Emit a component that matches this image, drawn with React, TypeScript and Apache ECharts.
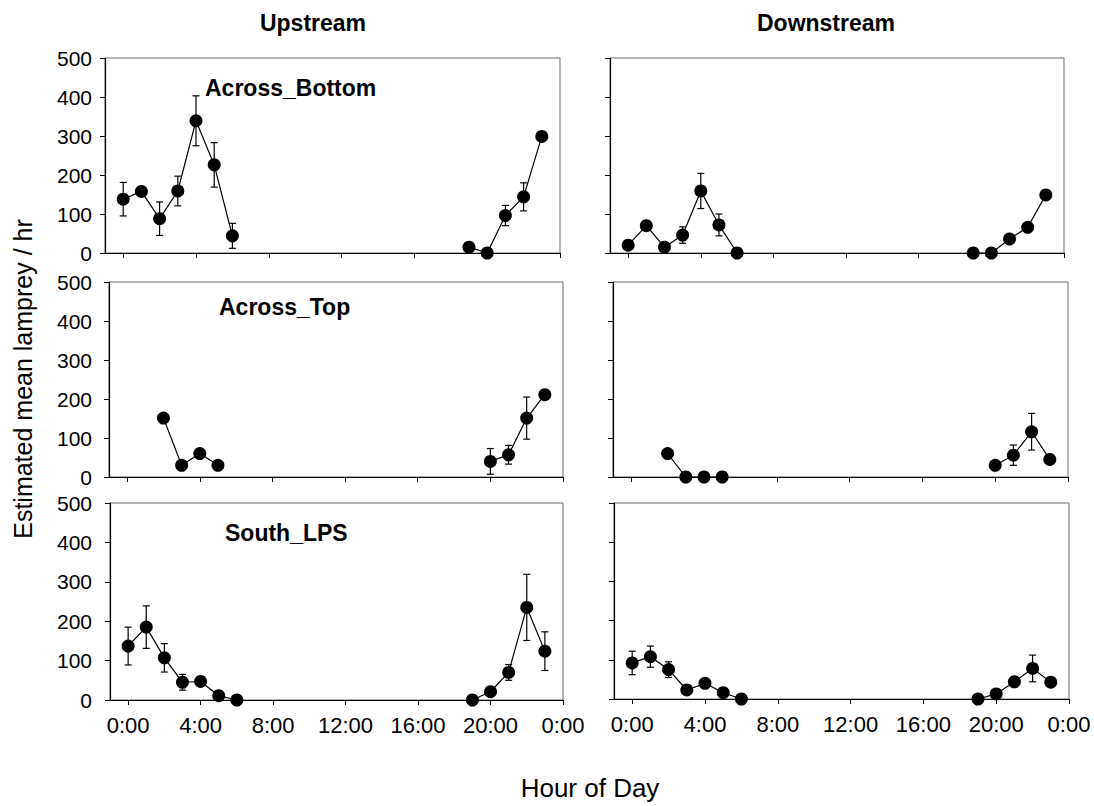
import React, { useEffect, useRef } from "react";
import * as echarts from "echarts";

const FONT = '"Liberation Sans", Arial, Helvetica, sans-serif';

// Hour of day for each sampled interval
const hoursFull = [0, 1, 2, 3, 4, 5, 6, 19, 20, 21, 22, 23];
const hoursTop = [2, 3, 4, 5, 20, 21, 22, 23];

// Across_Bottom
const upBottomMean = [138, 158, 88, 159, 339, 226, 44, 15, 0, 96, 144, 299];
const upBottomErr = [43, 0, 43, 38, 64, 57, 32, 0, 0, 26, 36, 0];
const downBottomMean = [20, 70, 15, 46, 159, 72, 0, 0, 0, 36, 66, 149];
const downBottomErr = [10, 0, 0, 21, 45, 28, 0, 0, 0, 9, 0, 0];

// Across_Top
const upTopMean = [151, 30, 60, 30, 40, 57, 151, 211];
const upTopErr = [0, 0, 0, 0, 33, 24, 54, 0];
const downTopMean = [60, 0, 0, 0, 30, 56, 116, 45];
const downTopErr = [0, 0, 0, 0, 0, 26, 47, 0];

// South_LPS
const upSouthMean = [137, 185, 107, 45, 47, 11, 0, 0, 21, 70, 235, 124];
const upSouthErr = [48, 54, 36, 20, 0, 0, 0, 0, 0, 20, 84, 49];
const downSouthMean = [92, 108, 75, 23, 40, 16, 0, 0, 13, 44, 78, 43];
const downSouthErr = [30, 27, 20, 0, 0, 0, 0, 0, 0, 6, 34, 6];

const xTicks = [0, 4, 8, 12, 16, 20, 24];
const yMax = 500;
const yStep = 100;

const columnTitles = ["Upstream", "Downstream"];
const siteLabels = ["Across_Bottom", "Across_Top", "South_LPS"];

type Panel = {
  hours: number[];
  mean: number[];
  err: number[];
  grid: { left: number; top: number; width: number; height: number };
  col: number;
  row: number;
  yLabelMargin: number;
};

const panels: Panel[] = [
  { hours: hoursFull, mean: upBottomMean, err: upBottomErr, grid: { left: 105, top: 58, width: 455, height: 195 }, col: 0, row: 0, yLabelMargin: 13 },
  { hours: hoursFull, mean: downBottomMean, err: downBottomErr, grid: { left: 610, top: 58, width: 454, height: 195 }, col: 1, row: 0, yLabelMargin: 13 },
  { hours: hoursTop, mean: upTopMean, err: upTopErr, grid: { left: 109, top: 282, width: 454, height: 195 }, col: 0, row: 1, yLabelMargin: 17 },
  { hours: hoursTop, mean: downTopMean, err: downTopErr, grid: { left: 613, top: 282, width: 455, height: 195 }, col: 1, row: 1, yLabelMargin: 17 },
  { hours: hoursFull, mean: upSouthMean, err: upSouthErr, grid: { left: 110, top: 503, width: 453, height: 197 }, col: 0, row: 2, yLabelMargin: 18 },
  { hours: hoursFull, mean: downSouthMean, err: downSouthErr, grid: { left: 614, top: 503, width: 455, height: 196 }, col: 1, row: 2, yLabelMargin: 18 },
];

// Split a panel's points into runs of consecutive hours so that the
// night-time gap is not bridged by a line.
function runs(hours: number[], mean: number[]): number[][][] {
  const out: number[][][] = [];
  let cur: number[][] = [];
  hours.forEach((h, i) => {
    if (cur.length && h - hours[i - 1] !== 1) {
      out.push(cur);
      cur = [];
    }
    cur.push([h, mean[i]]);
  });
  if (cur.length) out.push(cur);
  return out;
}

function errorBarItem(params: any, api: any) {
  const x = api.value(0);
  const lo = api.coord([x, api.value(1)]);
  const hi = api.coord([x, api.value(2)]);
  const cap = 3.5;
  const style = { stroke: "#000", lineWidth: 1.2 };
  return {
    type: "group",
    children: [
      { type: "line", shape: { x1: lo[0], y1: lo[1], x2: hi[0], y2: hi[1] }, style },
      { type: "line", shape: { x1: hi[0] - cap, y1: hi[1], x2: hi[0] + cap, y2: hi[1] }, style },
      { type: "line", shape: { x1: lo[0] - cap, y1: lo[1], x2: lo[0] + cap, y2: lo[1] }, style },
    ],
  };
}

function buildOption() {
  const grid: any[] = [];
  const xAxis: any[] = [];
  const yAxis: any[] = [];
  const series: any[] = [];

  panels.forEach((p, i) => {
    grid.push({ ...p.grid, show: true, borderColor: "#6a6a6a", borderWidth: 1, backgroundColor: "#fff" });
    xAxis.push({
      type: "value",
      gridIndex: i,
      min: -1,
      max: 24,
      splitLine: { show: false },
      axisLine: { show: true, onZero: false, lineStyle: { color: "#000", width: 1.2 } },
      axisTick: { show: true, inside: false, length: 5, customValues: xTicks, lineStyle: { color: "#000" } },
      axisLabel: {
        show: p.row === 2,
        customValues: xTicks,
        margin: 14,
        color: "#000",
        fontFamily: FONT,
        fontSize: 22,
        formatter: (v: number) => `${v % 24}:00`,
      },
    });
    yAxis.push({
      type: "value",
      gridIndex: i,
      min: 0,
      max: yMax,
      interval: yStep,
      splitLine: { show: false },
      axisLine: { show: true, onZero: false, lineStyle: { color: "#000", width: 1.2 } },
      axisTick: { show: true, inside: false, length: 5, lineStyle: { color: "#000" } },
      axisLabel: {
        show: p.col === 0,
        margin: p.yLabelMargin,
        color: "#000",
        fontFamily: FONT,
        fontSize: 21,
      },
    });

    const bars = p.hours
      .map((h, k) => [h, p.mean[k] - p.err[k], p.mean[k] + p.err[k], p.err[k]])
      .filter((d) => d[3] > 0)
      .map((d) => [d[0], Math.max(0, d[1]), d[2]]);
    series.push({
      type: "custom",
      xAxisIndex: i,
      yAxisIndex: i,
      renderItem: errorBarItem,
      data: bars,
      z: 2,
      silent: true,
    });

    runs(p.hours, p.mean).forEach((seg) => {
      series.push({
        type: "line",
        xAxisIndex: i,
        yAxisIndex: i,
        data: seg,
        symbol: "circle",
        symbolSize: 13,
        clip: false,
        itemStyle: { color: "#000", borderWidth: 0 },
        lineStyle: { color: "#000", width: 1.2 },
        z: 3,
        silent: true,
      });
    });
  });

  const graphic: any[] = [
    {
      type: "text",
      x: 313,
      y: 23,
      style: { text: columnTitles[0], font: `bold 23px ${FONT}`, fill: "#000", align: "center", verticalAlign: "middle" },
    },
    {
      type: "text",
      x: 826,
      y: 23,
      style: { text: columnTitles[1], font: `bold 23px ${FONT}`, fill: "#000", align: "center", verticalAlign: "middle" },
    },
    {
      type: "text",
      x: 205,
      y: 88,
      z: 10,
      style: { text: siteLabels[0], font: `bold 23px ${FONT}`, fill: "#000", align: "left", verticalAlign: "middle" },
    },
    {
      type: "text",
      x: 219,
      y: 307,
      z: 10,
      style: { text: siteLabels[1], font: `bold 23px ${FONT}`, fill: "#000", align: "left", verticalAlign: "middle" },
    },
    {
      type: "text",
      x: 225,
      y: 533,
      z: 10,
      style: { text: siteLabels[2], font: `bold 23px ${FONT}`, fill: "#000", align: "left", verticalAlign: "middle" },
    },
    {
      type: "text",
      x: 23,
      y: 379,
      rotation: Math.PI / 2,
      style: { text: "Estimated mean lamprey / hr", font: `25px ${FONT}`, fill: "#000", align: "center", verticalAlign: "middle" },
    },
    {
      type: "text",
      x: 590,
      y: 788,
      style: { text: "Hour of Day", font: `26px ${FONT}`, fill: "#000", align: "center", verticalAlign: "middle" },
    },
  ];

  return { animation: false, backgroundColor: "#fff", grid, xAxis, yAxis, series, graphic };
}

export default function App() {
  const ref = useRef<HTMLDivElement>(null);
  useEffect(() => {
    if (!ref.current) return;
    const chart = echarts.init(ref.current, undefined, { renderer: "svg" });
    chart.setOption(buildOption() as any);
    return () => chart.dispose();
  }, []);
  return (
    <div
      ref={ref}
      style={{ position: "fixed", left: 0, top: 0, width: 1094, height: 806, background: "#fff" }}
    />
  );
}
